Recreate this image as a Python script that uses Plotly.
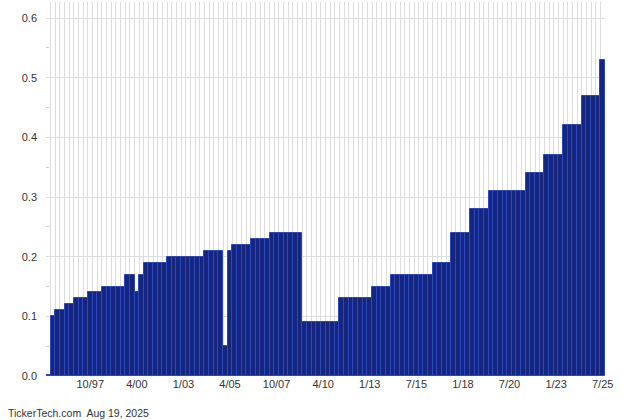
import plotly.graph_objects as go

# Dividend per quarter (bar index order)
values = (
    [0.002, 0.10, 0.11, 0.11, 0.12, 0.12, 0.13, 0.13, 0.13,
     0.14, 0.14, 0.14, 0.15, 0.15, 0.15, 0.15, 0.15,
     0.17, 0.17, 0.14, 0.17,
     0.19, 0.19, 0.19, 0.19, 0.19,
     0.20, 0.20, 0.20, 0.20, 0.20, 0.20, 0.20, 0.20,
     0.21, 0.21, 0.21, 0.21, 0.05, 0.21,
     0.22, 0.22, 0.22, 0.22,
     0.23, 0.23, 0.23, 0.23,
     0.24, 0.24, 0.24, 0.24, 0.24, 0.24, 0.24,
     0.09, 0.09, 0.09, 0.09, 0.09, 0.09, 0.09, 0.09,
     0.13, 0.13, 0.13, 0.13, 0.13, 0.13, 0.13,
     0.15, 0.15, 0.15, 0.15,
     0.17, 0.17, 0.17, 0.17, 0.17, 0.17, 0.17, 0.17, 0.17,
     0.19, 0.19, 0.19, 0.19,
     0.24, 0.24, 0.24, 0.24,
     0.28, 0.28, 0.28, 0.28,
     0.31, 0.31, 0.31, 0.31, 0.31, 0.31, 0.31, 0.31,
     0.34, 0.34, 0.34, 0.34,
     0.37, 0.37, 0.37, 0.37,
     0.42, 0.42, 0.42, 0.42,
     0.47, 0.47, 0.47, 0.47,
     0.53]
)
tick_labels = ["10/97", "4/00", "1/03", "4/05", "10/07", "4/10",
               "1/13", "7/15", "1/18", "7/20", "1/23", "7/25"]
footer = "TickerTech.com  Aug 19, 2025"

n = len(values)
x = list(range(n))
tick_idx = list(range(n - 1 - 10 * (len(tick_labels) - 1), n, 10))

fig = go.Figure()
fig.add_trace(go.Bar(
    x=x, y=values,
    marker=dict(color="#142680", line=dict(color="#2d47b8", width=1)),
    hoverinfo="y",
))

L, R, T, B = 45.5, 34.5, 2, 44
W, H = 640, 420
fig.update_layout(
    width=W, height=H,
    margin=dict(l=L, r=R, t=T, b=B, pad=0),
    paper_bgcolor="white", plot_bgcolor="white",
    bargap=0,
    showlegend=False,
    font=dict(family="Liberation Sans, Arial, sans-serif", size=11, color="#333"),
    xaxis=dict(
        range=[-0.5, n - 0.5],
        tickmode="array", tickvals=tick_idx, ticktext=tick_labels,
        showgrid=False, zeroline=False, showline=False, ticks="",
        tickfont=dict(size=11, color="#333"),
        minor=dict(tickmode="array", tickvals=[i - 0.5 for i in range(n + 1)],
                   showgrid=True, gridcolor="#dcdcdc", gridwidth=1, ticks=""),
        fixedrange=True,
    ),
    yaxis=dict(
        range=[0, 0.627],
        tickmode="linear", tick0=0, dtick=0.1, tickformat=".1f",
        showgrid=True, gridcolor="#dcdcdc", gridwidth=1,
        zeroline=False, showline=False, ticks="",
        ticklabelstandoff=8,
        tickfont=dict(size=11, color="#333"),
        minor=dict(tickmode="linear", tick0=0.05, dtick=0.1, ticks="inside",
                   ticklen=3, tickcolor="#cccccc", showgrid=False),
        fixedrange=True,
    ),
    annotations=[dict(
        text=footer, xref="paper", yref="paper",
        x=(5 - L) / (W - L - R), y=-(413 - (H - B)) / (H - T - B),
        xanchor="left", yanchor="middle", showarrow=False,
        font=dict(size=10.5, color="#333"),
    )],
)

fig.write_html("out.html", config={"displayModeBar": False},
               post_script="document.body.style.margin='0';document.body.style.overflow='hidden';")
